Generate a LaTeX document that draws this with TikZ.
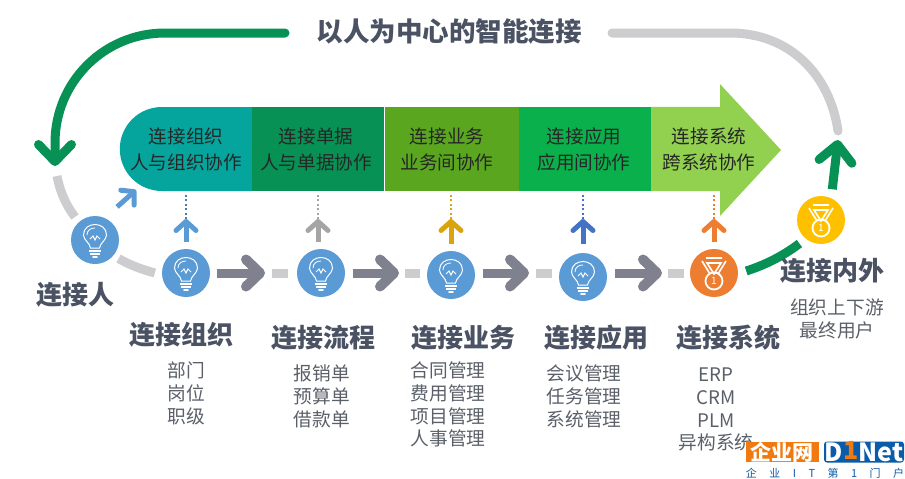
\documentclass[tikz,border=0pt]{standalone}
\usepackage{fontspec}
\setmainfont{Noto Sans CJK SC}
\usetikzlibrary{arrows.meta, positioning, shapes.misc}

\definecolor{titlegray}{HTML}{4A5263}
\definecolor{subgray}{HTML}{5A5F68}
\definecolor{loopgreen}{HTML}{079155}
\definecolor{loopgray}{HTML}{CDCDD0}
\definecolor{stepgray}{HTML}{7F828E}
\definecolor{bulbblue}{HTML}{5B9BD5}
\definecolor{darkblue}{HTML}{4472C4}
\definecolor{medalorange}{HTML}{ED7D31}
\definecolor{medalgold}{HTML}{FFC000}
\definecolor{upgold}{HTML}{D9A40F}
\definecolor{upgray}{HTML}{A5A5A5}
\definecolor{logoblue}{HTML}{0B5CA8}
\definecolor{logoorange}{HTML}{F07A10}
\definecolor{bandteal}{HTML}{05A59D}
\definecolor{bandolive}{HTML}{5AA61F}
\definecolor{bandgreen}{HTML}{0AB04C}
\definecolor{bandlime}{HTML}{92D050}

\tikzset{
    bulb/.pic={
        \draw[white, line width=1pt] (-4.5,8) .. controls (-5,3) and (-11.5,0) .. (-11.5,-5) .. controls (-11.5,-19) and (11.5,-19) .. (11.5,-5) .. controls (11.5,0) and (5,3) .. (4.5,8) -- cycle;
        \draw[white, line width=0.8pt] (-8,-5) .. controls (-8,-10) and (-4,-12) .. (0,-12);
        \draw[white, line width=1pt] (-5,-1) -- (-2,-4) -- (0,0) -- (2,-4) -- (5,-1);
        \draw[white, line width=1.8pt] (-6,11) -- (6,11);
        \draw[white, line width=1.8pt] (-5,14) -- (5,14);
        \draw[white, line width=1.8pt, line cap=round] (-2,17) -- (2,17);
    },
    medal/.pic={
        \draw[white, line width=1.6pt] (-12,-12) -- (-4,1) (12,-12) -- (4,1) (-8,-15) -- (8,-15) (-7,-10) -- (7,-10) -- (0,1) -- cycle;
        \draw[white, line width=1.8pt] (0,8) circle (8.5);
        \node[white, font=\fontsize{10}{10}\selectfont] at (0,8) {1};
    }
}

\begin{document}
\begin{tikzpicture}[x=1pt, y=-1pt,
        hub/.style={circle, minimum size=48pt, inner sep=0pt, fill=#1},
        seg/.style={rectangle, minimum width=132pt, minimum height=84pt, inner sep=0pt, fill=#1},
        bandtext/.style={align=center, font=\fontsize{18.6}{26}\selectfont, text=black!85},
        head/.style={font=\bfseries\fontsize{26}{30}\selectfont, text=titlegray},
        sub/.style={align=center, font=\fontsize{18.7}{22.6}\selectfont, text=subgray, inner sep=0pt},
        loopline/.style={line width=9pt, color=#1},
        bigarrow/.style={-{Straight Barb[round, length=17pt, width=33pt, line width=9pt]}, line width=9pt, loopgreen},
        steparrow/.style={-{Straight Barb[round, length=14pt, width=27pt, line width=10pt]}, line width=9pt, stepgray},
        stub/.style={line width=9pt, loopgray},
        uparrow/.style={-{Straight Barb[round, length=9pt, width=20pt, line width=5pt]}, line width=5pt, color=#1},
        dots/.style={dash pattern=on 2pt off 2.5pt, line width=1.6pt, shorten >=3pt, color=#1}
    ]
    \useasboundingbox (0,0) rectangle (905,479);

    % title and the big loop
    \node[font=\bfseries\fontsize{26.5}{30}\selectfont, text=titlegray] (title) at (449,31) {以人为中心的智能连接};
    \coordinate (loopA) at (285,33);
    \coordinate (loopB) at (55,166);
    \coordinate (loopC) at (612,33);
    \coordinate (loopD) at (838,131);
    \coordinate (loopE) at (57,176);
    \coordinate (loopF) at (75,217);
    \draw[bigarrow, line cap=round] (loopA) -- (165,33) .. controls (104,33) and (55,82) .. (55,143) -- (loopB);
    \draw[loopline=loopgray, line cap=round] (loopC) -- (730,33) .. controls (790,33) and (830,75) .. (loopD);

    % band
    \node[rounded rectangle, rounded rectangle right arc=none, minimum width=132pt, minimum height=84pt, inner sep=0pt, fill=bandteal, anchor=east] (band1) at (252,149) {};
    \node[seg=loopgreen, right=0pt of band1] (band2) {};
    \node[seg=bandolive, minimum width=134pt, right=0pt of band2] (band3) {};
    \node[seg=bandgreen, right=0pt of band3] (band4) {};
    \fill[bandlime] (band4.north east) -- (720,107) -- (720,84) -- (781,150) -- (720,216) -- (720,191) -- (band4.south east) -- cycle;
    \node[bandtext] (text1) at (186,149) {连接组织\\人与组织协作};
    \node[bandtext] (text2) at (316,149) {连接单据\\人与单据协作};
    \node[bandtext] (text3) at (447,149) {连接业务\\业务间协作};
    \node[bandtext] (text4) at (584,149) {连接应用\\应用间协作};
    \node[bandtext] (text5) at (709,149) {连接系统\\跨系统协作};

    % hubs
    \node[hub=bulbblue] (person) at (95,240) {};
    \node[hub=bulbblue] (org) at (186,273) {};
    \node[hub=bulbblue] (flow) at (321,273) {};
    \node[hub=bulbblue] (biz) at (451,275) {};
    \node[hub=bulbblue] (app) at (583,277) {};
    \node[hub=medalorange] (sys) at (714,273) {};
    \node[hub=medalgold] (ext) at (821,220) {};
    \pic at (person) {bulb};
    \pic at (org) {bulb};
    \pic at (flow) {bulb};
    \pic at (biz) {bulb};
    \pic at (app) {bulb};
    \pic at (sys) {medal};
    \pic at (ext) {medal};

    % connectors
    \draw[stub] (loopE) .. controls (60,192) and (66,205) .. (loopF);
    \draw[stub] ([xshift=8pt]person.-50) .. controls (128,264) and (140,269) .. ([xshift=-7pt]org.west);
    \draw[uparrow=bulbblue] ([shift={(5,-16)}]person.45) -- (136,190);
    \draw[loopline=loopgreen] ([xshift=8pt]sys.east) ++(0,-2) .. controls (765,265) and (783,256) .. ([shift={(-6,5)}]ext.-130);
    \draw[bigarrow] ([shift={(3,-8)}]ext.70) -- (838,140);

    \draw[steparrow] ([xshift=7pt]org.east) -- (265,273);
    \draw[stub] (272,273) -- (288,273);
    \draw[steparrow] ([xshift=8pt]flow.east) -- (399,273);
    \draw[stub] (405,273) -- (420,273);
    \draw[steparrow] ([xshift=8pt]biz.east |- sys) -- (529,273);
    \draw[stub] (536,273) -- (552,273);
    \draw[steparrow] ([xshift=8pt]app.east |- sys) -- (662,273);
    \draw[stub] (668,273) -- (684,273);

    \coordinate (orgup) at (186,219);
    \coordinate (flowup) at (318,219);
    \coordinate (bizup) at (451,219);
    \coordinate (appup) at (583,219);
    \coordinate (sysup) at (714,219);
    \draw[uparrow=bulbblue] ([yshift=7pt]org.north) -- (orgup);
    \draw[dots=bulbblue!80!black] (orgup) -- (orgup |- band1.south);
    \draw[uparrow=upgray] ([yshift=7pt]flow.north -| flowup) -- (flowup);
    \draw[dots=upgray] (flowup) -- (flowup |- band2.south);
    \draw[uparrow=upgold] ([yshift=7pt]biz.north) -- (bizup);
    \draw[dots=upgold] (bizup) -- (bizup |- band3.south);
    \draw[uparrow=darkblue] ([yshift=9pt]app.north) -- (appup);
    \draw[dots=darkblue] (appup) -- (appup |- band4.south);
    \draw[uparrow=medalorange] ([yshift=7pt]sys.north) -- (sysup);
    \draw[dots=medalorange] (sysup) -- (sysup |- band4.south);

    % labels
    \node[head] (personhead) at (75,295) {连接人};
    \node[head] (orghead) at (181,335) {连接组织};
    \node[head] (flowhead) at (323,338) {连接流程};
    \node[head] (bizhead) at (463,338) {连接业务};
    \node[head] (apphead) at (596,338) {连接应用};
    \node[head] (syshead) at (728,338) {连接系统};
    \node[head] (exthead) at (832,271) {连接内外};

    \node[sub, anchor=north] (orgsub) at (186,362) {部门\\岗位\\职级};
    \node[sub, anchor=north] (flowsub) at (322,365) {报销单\\预算单\\借款单};
    \node[sub, anchor=north] (bizsub) at (448,362) {合同管理\\费用管理\\项目管理\\人事管理};
    \node[sub, anchor=north] (appsub) at (584,365) {会议管理\\任务管理\\系统管理};
    \node[sub, anchor=north] (syssub) at (716,368) {ERP\\CRM\\PLM\\异构系统};
    \node[sub, anchor=north] (extsub) at (837,299) {组织上下游\\最终用户};

    % logo
    \node[fill=logoorange, text=white, font=\bfseries\fontsize{21}{22}\selectfont, minimum width=73pt, minimum height=20pt, inner sep=0pt] (logoleft) at (782,452) {企业网};
    \node[fill=logoblue, rounded corners=3pt, text=white, font=\bfseries\fontsize{25}{26}\selectfont, minimum width=80pt, minimum height=21pt, inner sep=0pt] (logoright) at (864,452) {D{\color{logoorange}\raisebox{2pt}{1}}Net};
    \node[text=logoblue, inner sep=0pt, font=\fontsize{11}{12}\selectfont] (logotext) at (825,473) {企\hspace{12.5pt}业\hspace{12.5pt}I\hspace{12.5pt}T\hspace{12.5pt}第\hspace{12.5pt}1\hspace{12.5pt}门\hspace{12.5pt}户};
\end{tikzpicture}
\end{document}
